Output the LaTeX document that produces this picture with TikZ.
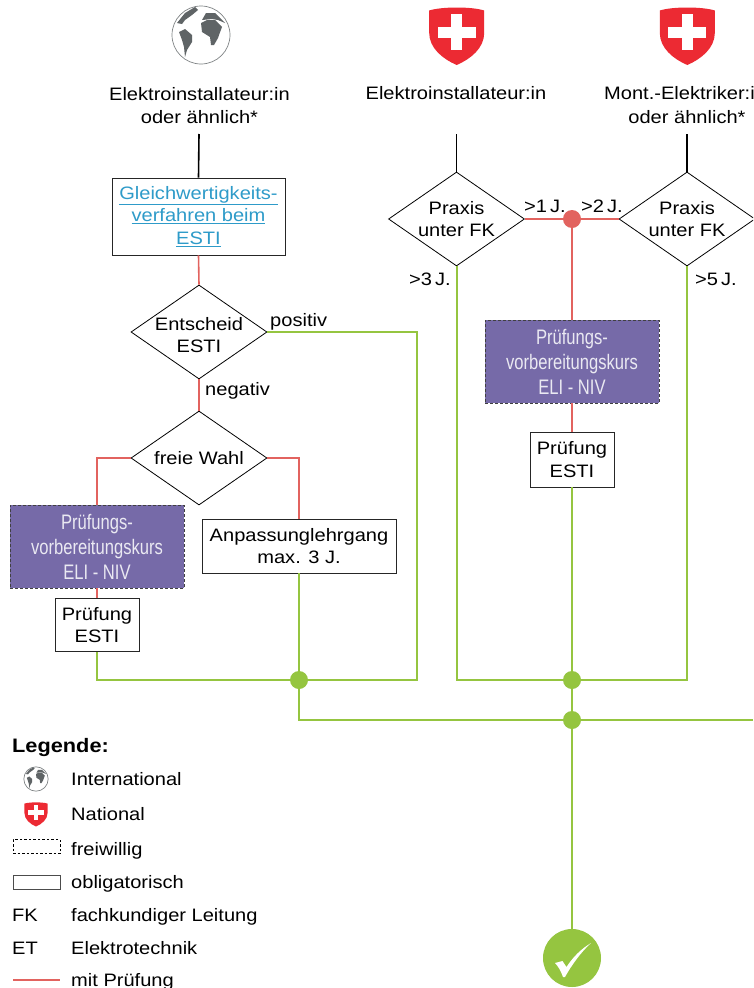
\documentclass[tikz,border=0pt]{standalone}
\usepackage{fontspec}
\usetikzlibrary{shapes.geometric}
\setmainfont[FakeStretch=1.115]{Liberation Sans}
\newfontfamily\condfont[FakeStretch=0.79]{Liberation Sans}
\definecolor{redl}{HTML}{E2635F}
\definecolor{greenl}{HTML}{95C540}
\definecolor{purp}{HTML}{766AA8}
\definecolor{linkb}{HTML}{2E9BC9}
\definecolor{swissr}{HTML}{EC2A33}
\definecolor{globeg}{HTML}{5F6466}
\newcommand{\shieldicon}[3]{%
\begin{scope}[shift={(#1,#2)},scale=#3]
\fill[swissr] (-27.5,-19.5) .. controls (-15,-23.5) and (15,-23.5) .. (27.5,-19.5) -- (27.5,3) .. controls (27.5,18) and (14,29) .. (0,35) .. controls (-14,29) and (-27.5,18) .. (-27.5,3) -- cycle;
\fill[white] (-5.5,-16) rectangle (5.5,20);
\fill[white] (-19,-3.3) rectangle (19,7.7);
\end{scope}}
\newcommand{\globeicon}[3]{%
\begin{scope}[shift={(#1,#2)},scale=#3]
\draw[globeg!80,line width=0.7pt] (0,0) circle (29);
\fill[globeg] (-22,-3) -- (-16,-6) -- (-9,0) -- (-9,7) -- (-14,15) -- (-16,22) -- (-17,12) -- (-19,5) -- cycle;
\fill[globeg] (0,-12) -- (6,-15) -- (14,-15) -- (21,-8) -- (18,0) -- (17,3) -- (13,10) -- (10,10) -- (9,2) -- (1,-3) -- cycle;
\fill[globeg] (1,-15) -- (5,-22) -- (14,-22) -- (24,-12) -- (17,-15) -- (11,-16) -- cycle;
\fill[globeg] (-24,-12) -- (-16,-22) -- (-6,-28) -- (-3,-25) -- (-9,-20) -- (-16,-15) -- (-19,-11) -- cycle;
\end{scope}}
\newcommand{\lowertext}[2]{\makebox[0pt]{\smash{\raisebox{-#1}{\begin{tabular}{@{}c@{}}#2\end{tabular}}}}}
\tikzset{
 x=1pt,y=-1pt,
 base/.style={font=\fontsize{18}{22.5}\selectfont,align=center,inner sep=0pt},
 lab/.style={font=\fontsize{18}{22}\selectfont,inner sep=0pt,anchor=base west},
 boxn/.style={base,draw=black!85,line width=0.9pt,fill=white,rectangle,minimum width=#1},
 dia/.style={draw=black,line width=0.8pt,fill=white,base,diamond,aspect=1.44,minimum width=136pt,minimum height=94pt},
 purpn/.style={draw=black!75,dashed,dash pattern=on 3pt off 2pt,line width=0.9pt,fill=purp,text=white!85!purp,minimum width=174pt,minimum height=83pt,inner sep=0pt,align=center,font=\condfont\fontsize{21}{25}\selectfont},
 blk/.style={draw=black,line width=1.6pt},
 redc/.style={draw=redl,line width=1.6pt},
 grnc/.style={draw=greenl,line width=2pt},
 gdot/.style={circle,fill=greenl,minimum size=18pt,inner sep=0pt},
 rdot/.style={circle,fill=redl,minimum size=18pt,inner sep=0pt},
}
\begin{document}
\begin{tikzpicture}
\useasboundingbox (0,0) rectangle (753,988);
\clip (0,0) rectangle (753,988);
\fill[white] (0,0) rectangle (753,988);
% icons
\globeicon{201}{35}{1}
\shieldicon{456.7}{30}{1}
\shieldicon{687.3}{30}{1}
% headings
\node[base] (h1) at (199.5,105.5) {Elektroinstallateur:in\\oder ähnlich*};
\node[base] (h2) at (456,93.5) {Elektroinstallateur:in};
\node[base,anchor=west] (h3) at (604,93.5) {Mont.-Elektriker:in};
\node[base] (h4) at (687,117.5) {oder ähnlich*};
\coordinate (t1) at (199,134);
\coordinate (t2) at (456.5,134);
\coordinate (t3) at (687,134);
% left column
\node[boxn=173pt,minimum height=77pt,text=linkb] (gl) at (198.5,216.5) {\underline{Gleichwertigkeits-}\\\underline{verfahren beim}\\\underline{ESTI}};
\node[dia] (ent) at (199,332) {\lowertext{9.5pt}{Entscheid\\ESTI}};
\node[dia] (wahl) at (199,458) {freie Wahl};
\node[purpn] (pk1) at (97,546.5) {Prüfungs-\\vorbereitungskurs\\ELI - NIV};
\node[boxn=84pt,minimum height=53pt] (pr1) at (97,625) {Prüfung\\ESTI};
\node[boxn=194pt,minimum height=54pt] (anp) at (299,546) {Anpassunglehrgang\\max. 3 J.};
% right column
\node[dia] (pl) at (456.5,219) {Praxis\\unter FK};
\node[dia] (pr) at (687,219) {Praxis\\unter FK};
\node[rdot] (rd) at (572,219) {};
\node[purpn] (pk2) at (572,361.5) {Prüfungs-\\vorbereitungskurs\\ELI - NIV};
\node[boxn=84pt,minimum height=55pt] (pr2) at (572,459.5) {Prüfung\\ESTI};
% junctions
\node[gdot] (g1) at (299,680) {};
\node[gdot] (g2) at (572,680) {};
\node[gdot] (g3) at (572,720) {};
\coordinate (rim) at (753,720);
\node[circle,fill=greenl,minimum size=58pt,inner sep=0pt] (ok) at (572,958) {};
\fill[white] (555,963) -- (562.5,961) -- (566.5,967) .. controls (573,957) and (581,949) .. (591,943) .. controls (581,952) and (571,966) .. (565,977) -- (563,977) .. controls (561,971) and (558,966) .. (555,963) -- cycle;
% connectors
\draw[blk] (t1) -- (gl.north);
\draw[blk] (t2) -- (pl.north);
\draw[blk] (t3) -- (pr.north);
\draw[redc] (gl.south) -- (ent.north);
\draw[redc] (ent.south) -- (wahl.north);
\draw[redc] (wahl.west) -| (pk1.north);
\draw[redc] (pk1.south) -- (pr1.north);
\draw[redc] (wahl.east) -| (anp.north);
\draw[redc] (pl.east) -- (rd);
\draw[redc] (pr.west) -- (rd);
\draw[redc] (rd) -- (pk2.north);
\draw[redc] (pk2.south) -- (pr2.north);
\draw[grnc] (ent.east) -| (417,680) -- (g1);
\draw[grnc] (pr1.south) |- (g1);
\draw[grnc] (anp.south) -- (g1);
\draw[grnc] (g1) -- (299,720) -- (g3);
\draw[grnc] (g3) -- (rim);
\draw[grnc] (pl.south) |- (g2);
\draw[grnc] (pr.south) |- (g2);
\draw[grnc] (pr2.south) -- (g2);
\draw[grnc] (g2) -- (g3);
\draw[grnc] (g3) -- (ok);
% labels
\node[lab] (lp) at (270,326) {positiv};
\node[lab] (ln) at (205,395) {negativ};
\node[lab] (l1) at (524,212.5) {>1\,J.};
\node[lab] (l2) at (581,212.5) {>2\,J.};
\node[lab] (l3) at (409,285.5) {>3\,J.};
\node[lab] (l5) at (695,285.5) {>5\,J.};
% legend
\node[lab,font=\bfseries\fontsize{19.5}{22}\selectfont] (lg) at (12,752.5) {Legende:};
\globeicon{36}{779}{0.42}
\shieldicon{36}{811.8}{0.42}
\node[lab] (l_a) at (71,785) {International};
\node[lab] (l_b) at (71,820.5) {National};
\node[draw=black,dashed,dash pattern=on 2.5pt off 2pt,line width=0.7pt,minimum width=47pt,minimum height=14pt,inner sep=0pt] (s_a) at (36.5,846.5) {};
\node[lab] (l_c) at (71,855) {freiwillig};
\node[draw=black!70,line width=1pt,minimum width=47pt,minimum height=14pt,inner sep=0pt] (s_b) at (36.5,882) {};
\node[lab] (l_d) at (71,888) {obligatorisch};
\node[lab] (l_e) at (12,921.5) {FK};
\node[lab] (l_f) at (71,921.5) {fachkundiger Leitung};
\node[lab] (l_g) at (12,954) {ET};
\node[lab] (l_h) at (71,954) {Elektrotechnik};
\coordinate (k1) at (13,980);
\coordinate (k2) at (60,980);
\draw[redc] (k1) -- (k2);
\node[lab] (l_i) at (71,986) {mit Prüfung};
\end{tikzpicture}
\end{document}
